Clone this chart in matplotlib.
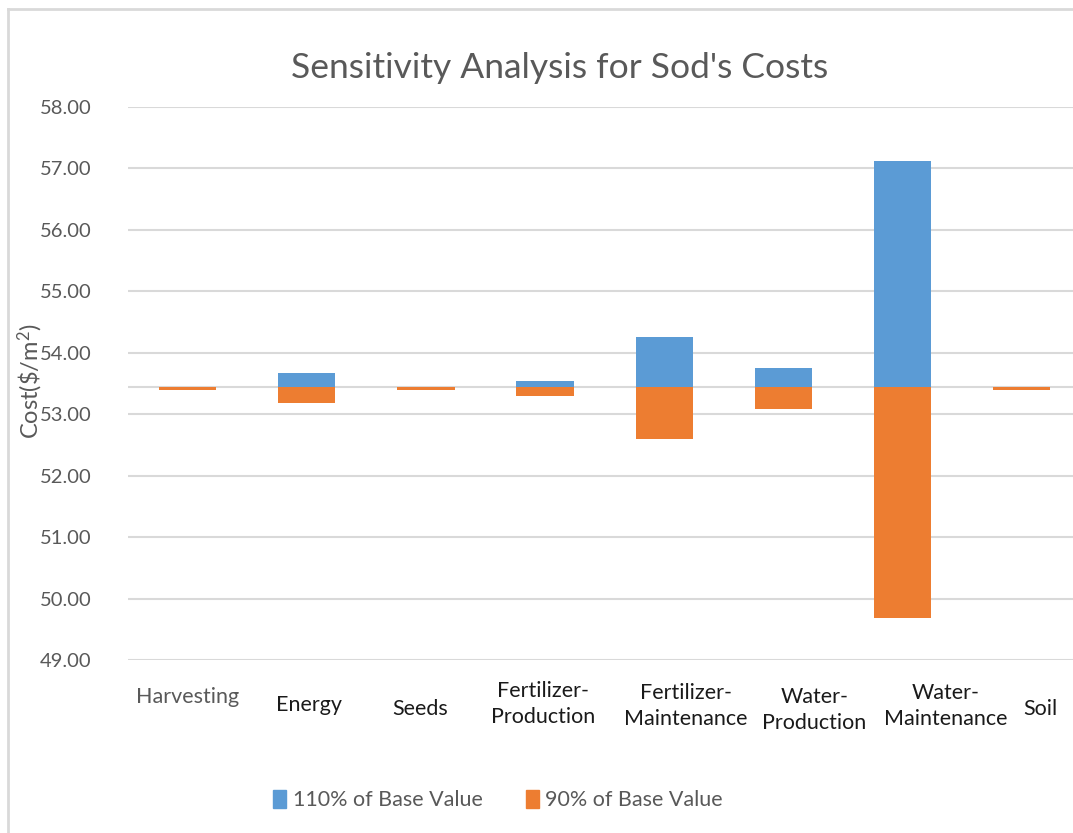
import matplotlib
matplotlib.use("Agg")
import matplotlib.pyplot as plt
import matplotlib.transforms as mtransforms
from matplotlib.lines import Line2D
from matplotlib.patches import Patch

# ---- data ----
categories = ["Harvesting", "Energy", "Seeds", "Fertilizer-\nProduction",
              "Fertilizer-\nMaintenance", "Water-\nProduction",
              "Water-\nMaintenance", "Soil"]
base_value = 53.44
high_110 = [53.44, 53.67, 53.44, 53.54, 54.25, 53.75, 57.12, 53.44]
low_90 = [53.40, 53.18, 53.40, 53.29, 52.60, 53.09, 49.68, 53.40]
yticks = [49, 50, 51, 52, 53, 54, 55, 56, 57, 58]
series_names = ["110% of Base Value", "90% of Base Value"]

BLUE = "#5B9BD5"
ORANGE = "#ED7D31"
GRID = "#D9D9D9"
TXT = "#595959"
FONT = ["Lato", "DejaVu Sans"]
plt.rcParams["font.family"] = FONT
plt.rcParams["mathtext.fontset"] = "custom"
plt.rcParams["mathtext.rm"] = "Lato"
plt.rcParams["mathtext.it"] = "Lato"

fig = plt.figure(figsize=(10.73, 8.33), dpi=100)
ax = fig.add_axes([128 / 1073, 1 - 660 / 833, 1 - 128 / 1073, (660 - 107) / 833])

x = list(range(len(categories)))
ax.bar(x, [h - base_value for h in high_110], bottom=base_value, width=0.48,
       color=BLUE, zorder=3)
ax.bar(x, [l - base_value for l in low_90], bottom=base_value, width=0.48,
       color=ORANGE, zorder=3)

ax.set_ylim(49, 58)
ax.set_xlim(-0.5, 7.43)
ax.set_yticks(yticks)
ax.set_yticklabels([f"{v:.2f}" for v in yticks], fontsize=14.5, color=TXT)
ax.tick_params(axis="y", length=0, pad=26)
ax.set_xticks([])
ax.grid(axis="y", color=GRID, linewidth=1.5, zorder=0)
ax.axhline(base_value, color=GRID, linewidth=1.5, zorder=1)
for s in ax.spines.values():
    s.set_visible(False)

ax.set_ylabel(r"Cost(\$/m$\mathregular{^2}$)", fontsize=17, color=TXT, labelpad=2)
ax.yaxis.set_label_coords(-0.088, 0.505)

# category labels (placed like text boxes under the plot)
label_dx = [0.0, 0.02, -0.05, -0.02, 0.18, 0.26, 0.36, 0.16]
label_y = [697, 705, 709, 704, 706, 710, 706, 709]
label_col = [TXT] + ["#1a1a1a"] * 7
trans = mtransforms.blended_transform_factory(ax.transData, fig.transFigure)
for i, lab in enumerate(categories):
    ax.text(i + label_dx[i], 1 - label_y[i] / 833, lab, transform=trans,
            ha="center", va="center", fontsize=15.5, color=label_col[i], linespacing=1.4)

fig.text(560 / 1073, 1 - 68 / 833, "Sensitivity Analysis for Sod's Costs",
         ha="center", va="center", fontsize=25.5, color=TXT)

handles = [Patch(color=BLUE), Patch(color=ORANGE)]
fig.legend(handles, series_names, loc="center", bbox_to_anchor=(498 / 1073, 1 - 800 / 833),
           ncol=2, frameon=False, fontsize=15.5, handlelength=0.6, handleheight=0.9,
           handletextpad=0.3, columnspacing=2.0, labelcolor=TXT)

# chart border (left and top)
fig.add_artist(Line2D([8 / 1073, 8 / 1073], [0, 1 - 9 / 833], transform=fig.transFigure,
                      color=GRID, linewidth=2))
fig.add_artist(Line2D([8 / 1073, 1], [1 - 9 / 833, 1 - 9 / 833], transform=fig.transFigure,
                      color=GRID, linewidth=2))

fig.savefig("out.png", dpi=100, facecolor="white")
